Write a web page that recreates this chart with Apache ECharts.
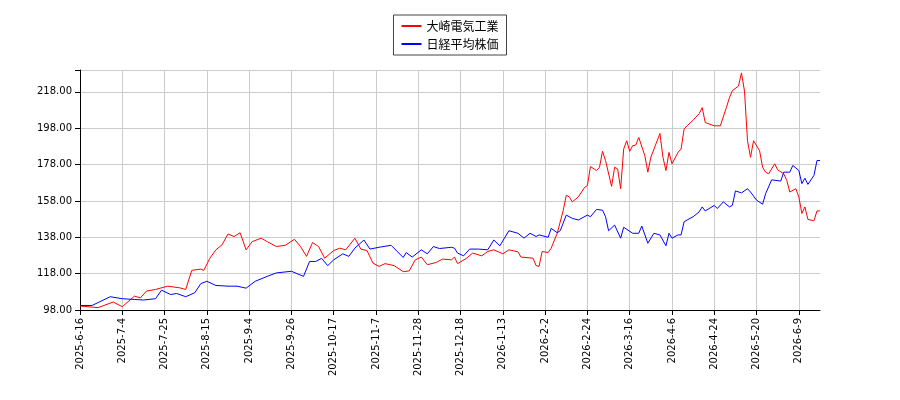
<!DOCTYPE html>
<html>
<head>
<meta charset="utf-8">
<script src="https://cdn.jsdelivr.net/npm/echarts@6/dist/echarts.min.js"></script>
<style>html,body{margin:0;padding:0;background:#fff}#main{width:900px;height:400px}</style>
</head>
<body>
<div id="main"></div>
<script>
// 取引日(東証休場日を除く)
var holidays = ['2025-07-21','2025-08-11','2025-09-15','2025-09-23','2025-10-13','2025-11-03','2025-11-24',
  '2025-12-31','2026-01-01','2026-01-02','2026-01-12','2026-02-11','2026-02-23','2026-03-20',
  '2026-04-29','2026-05-04','2026-05-05','2026-05-06'];
var labelDates = ['2025-6-16','2025-7-4','2025-7-25','2025-8-15','2025-9-4','2025-9-26','2025-10-17',
  '2025-11-7','2025-11-28','2025-12-18','2026-1-13','2026-2-2','2026-2-24','2026-3-16','2026-4-6',
  '2026-4-24','2026-5-20','2026-6-9'];
var yTicks = [98, 118, 138, 158, 178, 198, 218];

var days = [];
var d = new Date(2025, 5, 16);
while (days.length < 246) {
  var w = d.getDay();
  var iso = d.getFullYear() + '-' + ('0' + (d.getMonth() + 1)).slice(-2) + '-' + ('0' + d.getDate()).slice(-2);
  if (w != 0 && w != 6 && holidays.indexOf(iso) < 0) {
    days.push(d.getFullYear() + '-' + (d.getMonth() + 1) + '-' + d.getDate());
  }
  d.setDate(d.getDate() + 1);
}

// [取引日番号, 値]
var osaki = [[0,100.2],[6,99.3],[11,102.4],[14,99.8],[18,105.6],[20,104.7],[22,108.4],[25,109.3],[29,111.1],
  [33,110.2],[35,109.3],[37,119.8],[40,120.5],[41,119.8],[43,126.5],[45,131.1],[47,133.8],[49,139.8],[51,138.4],
  [53,140.5],[55,131.1],[57,135.6],[60,137.5],[62,135.6],[65,132.9],[68,133.6],[71,136.9],[73,132.9],[75,127.5],
  [77,135.1],[79,132.9],[81,126.5],[84,130.7],[86,132],[88,131.1],[91,137.5],[93,131.5],[95,130.7],[97,123.8],
  [99,122],[101,123.5],[104,122.4],[107,119.1],[109,119.5],[111,125.6],[113,127.1],[115,122.9],[118,124.2],
  [120,126],[123,125.6],[124,127.1],[125,123.5],[128,126.5],[130,129.3],[133,127.8],[135,130.2],[137,131.1],
  [140,128.9],[142,131.1],[145,130],[146,127.1],[150,126.5],[151,122.4],[152,122],[153,130.2],[155,129.6],
  [156,132],[158,140.2],[160,152.9],[161,161.1],[162,160.2],[163,157.5],[165,160.2],[167,165.3],[168,166.5],
  [169,176.9],[171,174.7],[172,176.5],[173,185.3],[174,180.2],[176,166],[177,176.5],[178,175.6],[179,164.7],
  [180,186.5],[181,191.1],[182,185.3],[183,188.4],[184,188.7],[185,192.9],[187,182.9],[188,173.8],[189,182],
  [192,195.1],[193,182],[194,174.7],[195,184.7],[196,178.4],[198,184.7],[199,186.5],[200,197.5],[201,199.3],
  [203,202.4],[205,206],[206,209.3],[207,201.1],[210,199.3],[212,199.3],[214,209.3],[215,214.7],[216,218.7],
  [218,221.1],[219,228.4],[220,218.4],[221,191.1],[222,182],[223,191.1],[225,185.6],[226,176.5],[227,173.8],
  [228,172.9],[230,178.4],[231,175.1],[233,172.9],[234,169.3],[235,162.9],[237,164.7],[238,160.2],[239,151.1],
  [240,154.7],[241,147.8],[243,147.1],[244,152.5],[245,152.5]];
var nikkei = [[0,100.5],[4,100.5],[10,105.3],[14,104.2],[18,103.8],[21,103.5],[25,104.2],[27,108.9],[30,106.5],
  [32,107.1],[35,105.3],[38,107.5],[40,112.5],[42,113.8],[45,111.5],[49,111.1],[52,111.1],[55,110],[58,113.8],
  [62,116.5],[65,118.4],[70,119.3],[74,116.5],[76,124.7],[78,124.7],[80,126.4],[82,122.4],[84,125.6],[87,128.9],
  [89,127.5],[91,132],[94,136.5],[96,131.5],[99,132.5],[103,133.6],[107,126.9],[108,129.6],[110,127.1],[113,131.1],
  [115,128.9],[117,132.9],[119,131.8],[123,132.5],[124,132],[125,129.3],[127,127.8],[129,131.5],[132,131.5],
  [135,131.1],[137,136.5],[139,133.3],[142,141.6],[145,140.2],[147,137.5],[149,140.2],[151,138.4],[152,139.3],
  [155,138],[156,142.9],[158,140.5],[159,141.6],[161,150.2],[163,148.4],[165,147.5],[168,150.2],[169,149.3],
  [171,153.3],[173,152.9],[174,149.3],[175,141.6],[177,144.7],[179,137.5],[180,143.5],[183,140.2],[185,140.2],
  [186,144.2],[188,134.7],[190,140.2],[192,139.3],[194,133.3],[195,140.2],[196,137.5],[198,139.3],[199,139.3],
  [200,146.5],[201,147.5],[203,149.3],[205,152],[206,154.7],[207,152.5],[210,155.5],[211,153.8],[213,157.5],
  [215,154.7],[216,155.6],[217,163.5],[219,162.4],[221,164.7],[222,162.9],[224,158.4],[226,156.2],[227,162],
  [229,169.6],[232,168.9],[233,173.8],[235,173.8],[236,177.5],[238,174.7],[239,167.5],[240,170.5],[241,167.1],
  [243,172],[244,180.2],[245,180.2]];

var myChart = echarts.init(document.getElementById('main'));
var option = {
  animation: false,
  textStyle: { fontFamily: 'DejaVu Sans' },
  legend: {
    orient: 'vertical', top: 15, left: 'center',
    borderColor: '#444', borderWidth: 1, borderRadius: 0, padding: [5, 8],
    itemWidth: 20, itemHeight: 2, itemGap: 6,
    icon: 'rect',
    textStyle: { fontSize: 12, color: '#000', fontFamily: 'Noto Sans CJK JP' },
    data: ['大崎電気工業', '日経平均株価']
  },
  grid: { left: 80, right: 80, top: 70, bottom: 90 },
  xAxis: {
    type: 'category', data: days, boundaryGap: false,
    axisLine: { lineStyle: { color: '#000' } },
    axisTick: { interval: function (i, v) { return labelDates.indexOf(v) >= 0; }, lineStyle: { color: '#000' } },
    axisLabel: { interval: function (i, v) { return labelDates.indexOf(v) >= 0; }, rotate: 90, fontSize: 10, color: '#000' },
    splitLine: { show: true, interval: function (i, v) { return labelDates.indexOf(v) >= 0; }, lineStyle: { color: '#ccc' } }
  },
  yAxis: {
    type: 'value', min: yTicks[0], max: 230, interval: 20,
    axisLine: { show: true, lineStyle: { color: '#000' } },
    axisTick: { show: true, lineStyle: { color: '#000' } },
    axisLabel: { fontSize: 10, color: '#000', formatter: function (v) { return yTicks.indexOf(v) >= 0 ? v.toFixed(2) : ''; } },
    splitLine: { lineStyle: { color: '#ccc' } }
  },
  series: [
    { name: '大崎電気工業', type: 'line', data: osaki, symbol: 'none', lineStyle: { color: '#ff0000', width: 1 }, itemStyle: { color: '#ff0000' } },
    { name: '日経平均株価', type: 'line', data: nikkei, symbol: 'none', lineStyle: { color: '#0000ff', width: 1 }, itemStyle: { color: '#0000ff' } }
  ]
};
myChart.setOption(option);
</script>
</body>
</html>
